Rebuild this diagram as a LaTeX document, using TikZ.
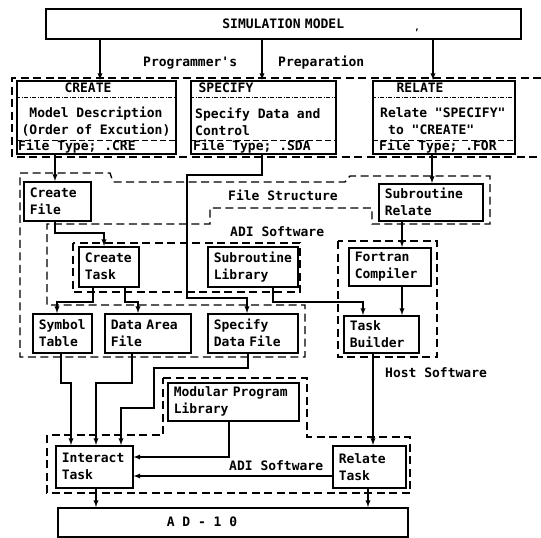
\documentclass[tikz,border=0pt]{standalone}
\usepackage{fontspec}
\setmonofont{DejaVu Sans Mono}
\usetikzlibrary{arrows,positioning}
\tikzset{>=latex}

\begin{document}
\begin{tikzpicture}[x=1pt,y=-1pt,
    every node/.style={font=\fontsize{13}{17}\selectfont\ttfamily\bfseries},
    box/.style={draw, line width=1.5pt, anchor=north west, align=left, inner xsep=6pt, inner ysep=0pt},
    lbl/.style={inner sep=0pt},
    conn/.style={->, line width=1.3pt},
    region/.style={line width=1.4pt, dash pattern=on 8pt off 4.5pt},
    titlesep/.style={line width=0.7pt, dash pattern=on 4pt off 1.5pt on 1pt off 1.5pt},
    typesep/.style={line width=1pt, dash pattern=on 6pt off 3pt}]
    \useasboundingbox (0,0) rectangle (541,538);

    % dashed groupings
    \draw[region] (541,78) -- (12,78) -- (12,157) -- (541,157);
    \draw[region] (20,173) -- (110,173) -- (113,182) -- (345,182) -- (350,176) -- (490,176)
        -- (490,224) -- (372,224) -- (372,208) -- (210,208) -- (210,224) -- (47,224)
        -- (47,305) -- (305,305) -- (305,357) -- (20,357) -- cycle;
    \draw[region] (73,243) rectangle (300,292);
    \draw[region] (338,241) rectangle (437,357);
    \draw[region] (163,378) -- (307,378) -- (307,437) -- (410,437) -- (410,493)
        -- (47,493) -- (47,435) -- (163,435) -- cycle;

    % model and preparation
    \node[box, text width=463pt, minimum height=30pt, align=center] (sim) at (45,8) {SIMULATION MODEL};
    \node[lbl, font=\fontsize{9}{9}\selectfont\ttfamily\bfseries] (simcomma) at (417,30) {,};
    \node[lbl, anchor=west] (prog) at (143,63) {Programmer's};
    \node[lbl, anchor=west] (prep) at (278,63) {Preparation};

    \node[box, text width=147pt, minimum height=73pt] (create) at (16,80) {};
    \node[box, text width=133pt, minimum height=73pt] (specify) at (190,80) {};
    \node[box, text width=130pt, minimum height=73pt] (relate) at (372,80) {};

    \node[lbl] (crtitle) at (88,88) {CREATE};
    \node[lbl, align=center] (crbody) at (96,121.5) {Model Description\\(Order of Excution)};
    \node[lbl, anchor=west] (crtype) at (18,147) {File Type; .CRE};
    \draw[titlesep] (create.west |- 0,97) -- (create.east |- 0,97);
    \draw[typesep] (create.west |- 0,140) -- (create.east |- 0,140);

    \node[lbl] (sptitle) at (226,88) {SPECIFY};
    \node[lbl, anchor=west, align=left] (spbody) at (195,121.5) {Specify Data and\\Control};
    \node[lbl, anchor=west] (sptype) at (193,147) {File Type; .SDA};
    \draw[titlesep] (specify.west |- 0,97) -- (specify.east |- 0,97);
    \draw[typesep] (specify.west |- 0,140) -- (specify.east |- 0,140);

    \node[lbl] (retitle) at (420,88) {RELATE};
    \node[lbl, anchor=west, align=left] (rebody) at (380,121.5) {Relate "SPECIFY"\\\hspace*{8pt}to "CREATE"};
    \node[lbl, anchor=west] (retype) at (379,147) {File Type; .FOR};
    \draw[titlesep] (relate.west |- 0,97) -- (relate.east |- 0,97);
    \draw[typesep] (relate.west |- 0,140) -- (relate.east |- 0,140);

    % file structure, ADI and host software
    \node[box, text width=55pt, minimum height=39pt] (cfile) at (23,181) {Create\\File};
    \node[box, text width=92pt, minimum height=37pt] (srelate) at (378,183) {Subroutine\\Relate};
    \node[lbl, anchor=west] (fstruct) at (228,195) {File Structure};
    \node[lbl, anchor=west] (adimid) at (230,232) {ADI Software};
    \node[box, text width=48pt, minimum height=40pt] (ctask) at (78,246) {Create\\Task};
    \node[box, text width=78pt, minimum height=40pt] (slib) at (207,246) {Subroutine\\Library};
    \node[box, text width=70pt, minimum height=38pt] (fortran) at (348,247) {Fortran\\Compiler};
    \node[box, text width=47pt, minimum height=39pt] (symtab) at (32,313) {Symbol\\Table};
    \node[box, text width=74pt, minimum height=39pt] (dafile) at (104,313) {Data Area\\File};
    \node[box, text width=78pt, minimum height=39pt] (sdfile) at (207,313) {Specify\\Data File};
    \node[box, text width=63pt, minimum height=37pt] (tbuild) at (343,315) {Task\\Builder};
    \node[lbl, anchor=west] (host) at (385,373) {Host Software};

    % run time
    \node[box, text width=119pt, minimum height=38pt] (mplib) at (167,382) {Modular Program\\Library};
    \node[box, text width=65pt, minimum height=42pt] (itask) at (55,445) {Interact\\Task};
    \node[box, text width=61pt, minimum height=42pt] (rtask) at (332,445) {Relate\\Task};
    \node[lbl, anchor=west] (adibot) at (229,466) {ADI Software};
    \node[box, text width=338pt, minimum height=29pt] (ad) at (57,507) {};
    \node[lbl] (adtext) at (202,522) {A D - 1 0};

    % connectors
    \draw[conn] (sim.south -| 100,0) -- (create.north -| 100,0);
    \draw[conn] (sim.south -| 262,0) -- (specify.north -| 262,0);
    \draw[conn] (sim.south -| 433,0) -- (relate.north -| 433,0);
    \draw[conn] (create.south -| 55,0) -- (cfile.north -| 55,0);
    \draw[conn] (relate.south -| 432,0) -- (srelate.north -| 432,0);
    \draw[conn] (specify.south -| 262,0) |- (187,175) |- (247,298) -- (sdfile.north -| 247,0);
    \draw[conn] (cfile.south -| 55,0) |- (104,233) -- (ctask.north -| 104,0);
    \draw[conn] (ctask.south -| 93,0) |- (57,302) -- (symtab.north -| 57,0);
    \draw[conn] (ctask.south -| 125,0) |- (138,302) -- (dafile.north -| 138,0);
    \draw[conn] (slib.south -| 273,0) |- (363,302) -- (tbuild.north -| 363,0);
    \draw[conn] (srelate.south -| 402,0) -- (fortran.north -| 402,0);
    \draw[conn] (fortran.south -| 402,0) -- (tbuild.north -| 402,0);
    \draw[conn] (symtab.south -| 61,0) |- (71,383) -- (itask.north -| 71,0);
    \draw[conn] (dafile.south -| 132,0) |- (96,383) -- (itask.north -| 96,0);
    \draw[conn] (sdfile.south -| 248,0) |- (154,368) |- (121,408) -- (itask.north -| 121,0);
    \draw[conn] (mplib.south -| 229,0) |- (itask.east |- 0,457);
    \draw[conn] (rtask.west |- 0,476) -- (itask.east |- 0,476);
    \draw[conn] (tbuild.south -| 373,0) -- (rtask.north -| 373,0);
    \draw[conn] (itask.south -| 96,0) -- (ad.north -| 96,0);
    \draw[conn] (rtask.south -| 368,0) -- (ad.north -| 368,0);
\end{tikzpicture}
\end{document}
